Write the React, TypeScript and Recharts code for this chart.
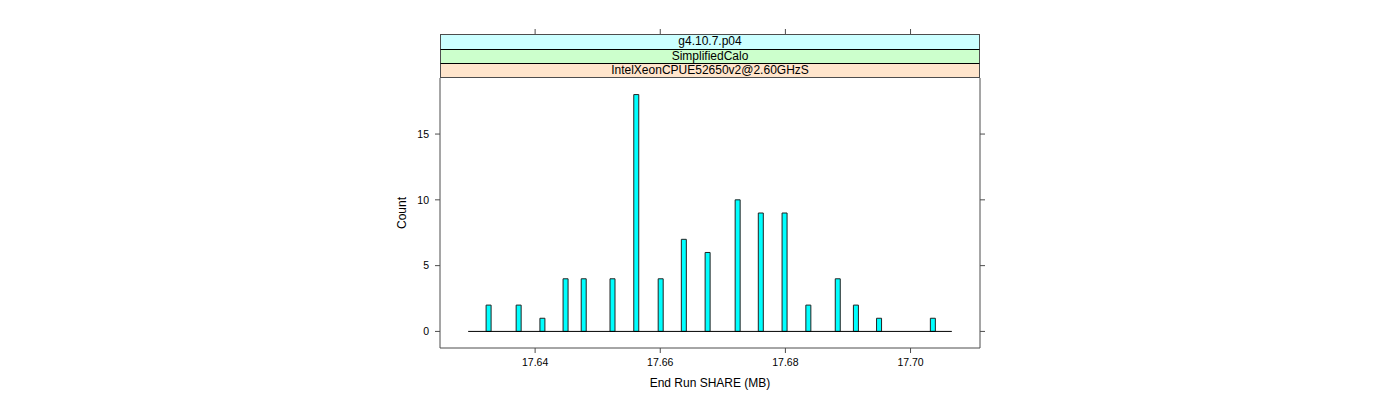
import { Bar, BarChart, ReferenceLine, XAxis, YAxis } from "recharts";

// histogram bins (End Run SHARE, MB) and their counts
const shareValues = [
  17.6325, 17.6373, 17.6411, 17.6448, 17.6477, 17.6523, 17.6561, 17.66, 17.6637,
  17.6675, 17.6723, 17.676, 17.6798, 17.6836, 17.6883, 17.6912, 17.6949, 17.7035,
];
const counts = [2, 2, 1, 4, 4, 4, 18, 4, 7, 6, 10, 9, 9, 2, 4, 2, 1, 1];
const xTicks = [17.64, 17.66, 17.68, 17.7];
const yTicks = [0, 5, 10, 15];
const xRange = [17.6248, 17.7111];
const baseRange = [17.6293, 17.7066];
const stripLabels = ["g4.10.7.p04", "SimplifiedCalo", "IntelXeonCPUE52650v2@2.60GHzS"];

const W = 1400;
const H = 400;
const PLOT = { left: 440, right: 980, top: 78, bottom: 348 };
const BOX_TOP = 34;
const STRIP_BG = ["#ccffff", "#ccffcc", "#ffe5cc"];
const AXIS = "#4d4d4d";
const FONT = "'Liberation Sans', Arial, Helvetica, sans-serif";
const TICK_FONT = 10.5;

// bottom tick label + the matching tick above the strips (lattice draws both)
const XTick = ({ x, y, payload }: any) => (
  <g>
    <line x1={x} x2={x} y1={BOX_TOP - 5} y2={BOX_TOP} stroke={AXIS} />
    <text x={x} y={y} dy="0.71em" textAnchor="middle" fontSize={TICK_FONT} fontFamily={FONT} fill="#000">
      {Number(payload.value).toFixed(2)}
    </text>
  </g>
);

const YTick = ({ x, y, payload }: any) => (
  <text x={x} y={y} dy="0.355em" textAnchor="end" fontSize={TICK_FONT} fontFamily={FONT} fill="#000">
    {payload.value}
  </text>
);

export default function App() {
  const data = shareValues.map((share, i) => ({ share, count: counts[i] }));
  const maxCount = Math.max(...counts);
  const yDomain = [-0.07 * maxCount, 1.07 * maxCount];
  const stripH = (PLOT.top - BOX_TOP) / stripLabels.length;

  return (
    <div
      style={{ position: "absolute", left: 0, top: 0, width: W, height: H, background: "#fff", fontFamily: FONT }}
    >
      <BarChart
        width={W}
        height={H}
        data={data}
        margin={{ top: PLOT.top, left: 400, right: 400, bottom: 17 }}
      >
        <XAxis
          dataKey="share"
          type="number"
          domain={xRange}
          ticks={xTicks}
          allowDataOverflow
          height={35}
          tickSize={5}
          tickMargin={6}
          tick={<XTick />}
          axisLine={{ stroke: AXIS }}
          tickLine={{ stroke: AXIS }}
          label={({ viewBox }: any) => (
            <text
              x={viewBox.x + viewBox.width / 2}
              y={viewBox.y + 39}
              textAnchor="middle"
              fontSize={12}
              fontFamily={FONT}
              fill="#000"
            >
              End Run SHARE (MB)
            </text>
          )}
        />
        <YAxis
          domain={yDomain}
          ticks={yTicks}
          allowDataOverflow
          width={40}
          tickSize={5}
          tickMargin={6}
          tick={<YTick />}
          axisLine={{ stroke: AXIS }}
          tickLine={{ stroke: AXIS }}
          label={({ viewBox }: any) => {
            const cx = viewBox.x + 2;
            const cy = viewBox.y + viewBox.height / 2;
            return (
              <text
                x={cx}
                y={cy}
                transform={`rotate(-90, ${cx}, ${cy})`}
                textAnchor="middle"
                dominantBaseline="central"
                fontSize={12}
                fontFamily={FONT}
                fill="#000"
              >
                Count
              </text>
            );
          }}
        />
        <YAxis
          yAxisId="right"
          orientation="right"
          domain={yDomain}
          ticks={yTicks}
          allowDataOverflow
          width={20}
          tickSize={5}
          tickFormatter={() => ""}
          axisLine={{ stroke: AXIS }}
          tickLine={{ stroke: AXIS }}
        />
        <ReferenceLine
          segment={[
            { x: baseRange[0], y: 0 },
            { x: baseRange[1], y: 0 },
          ]}
          stroke="#000"
        />
        <Bar dataKey="count" barSize={5} fill="#00ffff" stroke="#222" isAnimationActive={false} />
      </BarChart>

      {stripLabels.map((label, i) => (
        <div
          key={label}
          style={{
            position: "absolute",
            left: PLOT.left,
            top: BOX_TOP + i * stripH,
            width: PLOT.right - PLOT.left,
            height: stripH,
            boxSizing: "border-box",
            background: STRIP_BG[i],
            borderLeft: `1px solid ${AXIS}`,
            borderRight: `1px solid ${AXIS}`,
            borderTop: `1px solid ${i === 0 ? AXIS : "#000"}`,
            borderBottom: i === stripLabels.length - 1 ? `1px solid ${AXIS}` : "none",
            fontSize: 12,
            lineHeight: `${stripH - 1}px`,
            textAlign: "center",
            color: "#000",
          }}
        >
          {label}
        </div>
      ))}
    </div>
  );
}
